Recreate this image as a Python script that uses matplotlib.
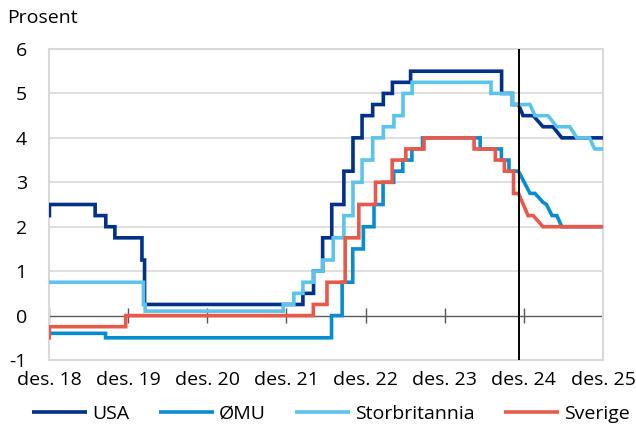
import numpy as np
import matplotlib.pyplot as plt

plt.rcParams['font.family'] = ['Open Sans', 'DejaVu Sans']
plt.rcParams['font.size'] = 14
plt.rcParams['axes.unicode_minus'] = False

# styringsrenter: datoer for renteendringer og nytt nivå (prosent)
usa_dates = ['2018-12-31', '2019-01-02', '2019-08-01', '2019-09-19', '2019-10-31',
             '2020-03-04', '2020-03-16', '2022-03-17', '2022-05-05', '2022-06-16',
             '2022-07-28', '2022-09-22', '2022-11-03', '2022-12-15', '2023-02-02',
             '2023-03-23', '2023-05-04', '2023-07-27', '2024-09-19', '2024-11-08']
usa_rates = [2.25, 2.5, 2.25, 2.0, 1.75, 1.25, 0.25, 0.5, 1.0, 1.75,
             2.5, 3.25, 4.0, 4.5, 4.75, 5.0, 5.25, 5.5, 5.0, 4.75]

emu_dates = ['2018-12-31', '2019-09-18', '2022-07-27', '2022-09-14', '2022-11-02',
             '2022-12-21', '2023-02-08', '2023-03-22', '2023-05-10', '2023-06-21',
             '2023-08-02', '2023-09-20', '2024-06-12', '2024-09-18', '2024-10-23']
emu_rates = [-0.4, -0.5, 0.0, 0.75, 1.5, 2.0, 2.5, 3.0, 3.25, 3.5,
             3.75, 4.0, 3.75, 3.5, 3.25]

uk_dates = ['2018-12-31', '2020-03-11', '2020-03-19', '2021-12-16', '2022-02-03',
            '2022-03-17', '2022-05-05', '2022-06-16', '2022-08-04', '2022-09-22',
            '2022-11-03', '2022-12-15', '2023-02-02', '2023-03-23', '2023-05-11',
            '2023-06-22', '2023-08-03', '2024-08-01', '2024-11-07']
uk_rates = [0.75, 0.25, 0.1, 0.25, 0.5, 0.75, 1.0, 1.25, 1.75, 2.25,
            3.0, 3.5, 4.0, 4.25, 4.5, 5.0, 5.25, 5.0, 4.75]

se_dates = ['2018-12-31', '2019-01-02', '2019-12-20', '2022-05-04', '2022-07-06',
            '2022-09-28', '2022-11-30', '2023-02-15', '2023-05-03', '2023-07-05',
            '2023-09-27', '2024-05-15', '2024-08-21', '2024-10-02', '2024-11-13']
se_rates = [-0.5, -0.25, 0.0, 0.25, 0.75, 1.75, 2.5, 3.0, 3.5, 3.75,
            4.0, 3.75, 3.5, 3.25, 2.75]

# markedsforventninger fra siste observasjon
cut_date = '2024-12-06'
usa_fc_dates = [cut_date, '2024-12-27', '2025-02-12', '2025-03-29', '2025-05-14',
                '2025-06-24', '2025-12-31']
usa_fc_rates = [4.75, 4.5, 4.5, 4.25, 4.25, 4.0, 4.0]

emu_fc_dates = [cut_date, '2025-01-28', '2025-02-20', '2025-03-29', '2025-04-14',
                '2025-05-10', '2025-06-01', '2025-06-24', '2025-12-31']
emu_fc_rates = [3.25, 2.75, 2.75, 2.55, 2.5, 2.25, 2.25, 2.0, 2.0]

uk_fc_dates = [cut_date, '2025-01-28', '2025-02-20', '2025-04-21', '2025-06-01',
               '2025-07-31', '2025-09-01', '2025-10-30', '2025-11-22', '2025-12-31']
uk_fc_rates = [4.75, 4.75, 4.5, 4.5, 4.25, 4.25, 4.0, 4.0, 3.75, 3.75]

se_fc_dates = [cut_date, '2025-01-19', '2025-02-12', '2025-03-29', '2025-12-31']
se_fc_rates = [2.75, 2.25, 2.25, 2.0, 2.0]

tick_dates = ['2018-12-31', '2019-12-31', '2020-12-31', '2021-12-31',
              '2022-12-31', '2023-12-31', '2024-12-31', '2025-12-31']
tick_labels = ['des. 18', 'des. 19', 'des. 20', 'des. 21',
               'des. 22', 'des. 23', 'des. 24', 'des. 25']


def step_path(dates, rates, fc_dates, fc_rates):
    d = np.array(dates, dtype='datetime64[D]')
    xs = [d[0]]
    ys = [rates[0]]
    for i in range(1, len(d)):
        xs += [d[i], d[i]]
        ys += [rates[i - 1], rates[i]]
    xs += list(np.array(fc_dates, dtype='datetime64[D]'))
    ys += list(fc_rates)
    return np.array(xs), np.array(ys)


series = [
    ('USA', '#003087', usa_dates, usa_rates, usa_fc_dates, usa_fc_rates),
    ('ØMU', '#078CD0', emu_dates, emu_rates, emu_fc_dates, emu_fc_rates),
    ('Storbritannia', '#5CC3EA', uk_dates, uk_rates, uk_fc_dates, uk_fc_rates),
    ('Sverige', '#E8594B', se_dates, se_rates, se_fc_dates, se_fc_rates),
]

fig = plt.figure(figsize=(6.36, 4.26), dpi=100)
ax = fig.add_axes([49 / 636, 1 - 360 / 426, 554 / 636, 311 / 426])

ticks = np.array(tick_dates, dtype='datetime64[D]')
grey = '#D9D9D9'

for y in range(1, 6):
    ax.axhline(y, color=grey, lw=1.2, zorder=1)
ax.axhline(0, color='#595959', lw=1.0, zorder=2)
ax.vlines(ticks, -0.16, 0.16, color='#595959', lw=1.0, zorder=2)

for name, color, d, r, fd, fr in series:
    xs, ys = step_path(d, r, fd, fr)
    ax.plot(xs, ys, color=color, lw=2.6, label=name, zorder=3,
            solid_joinstyle='miter', solid_capstyle='butt')

ax.axvline(np.datetime64(cut_date), color='black', lw=1.4, zorder=5)

ax.set_xlim(ticks[0], ticks[-1])
ax.set_ylim(-1, 6)
ax.set_yticks(range(-1, 7))
ax.set_xticks(ticks, tick_labels)
ax.tick_params(axis='both', length=0)
ax.tick_params(axis='y', pad=16)
ax.tick_params(axis='x', pad=8)
for s in ax.spines.values():
    s.set_color(grey)
    s.set_linewidth(1.5)

fig.text(7 / 636, 1 - 18 / 426, 'Prosent', ha='left', va='center')

fig.legend(loc='center', bbox_to_anchor=(331 / 636, 1 - 414 / 426), ncol=4,
           frameon=False, handlelength=2.8, handletextpad=0.25, columnspacing=1.55,
           borderpad=0, borderaxespad=0)

fig.savefig('out.png', dpi=100)
